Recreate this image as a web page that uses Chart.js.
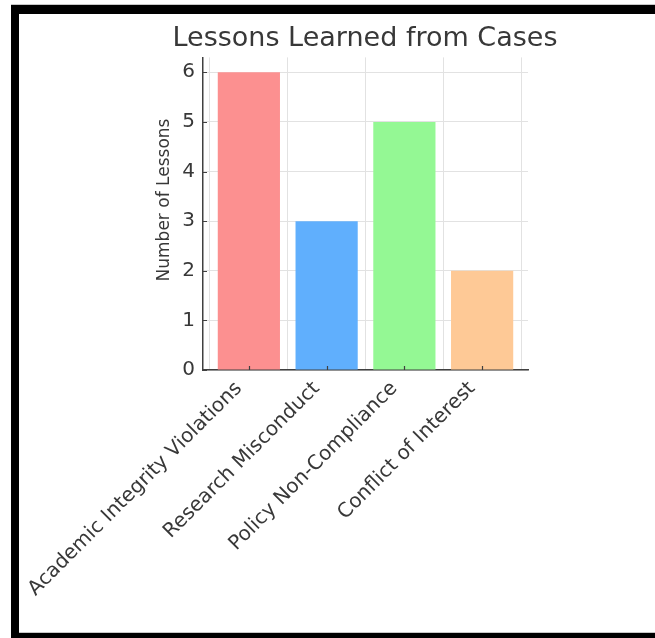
<!DOCTYPE html>
<html>
<head>
<meta charset="utf-8">
<title>Lessons Learned from Cases</title>
<script src="https://cdn.jsdelivr.net/npm/chart.js@4/dist/chart.umd.min.js"></script>
<style>
  html, body { margin: 0; padding: 0; background: #ffffff; }
  #wrap { position: relative; width: 655px; height: 638px; overflow: hidden; }
  #chart { position: absolute; left: 0; top: 0; }
  .edge { position: absolute; pointer-events: none; }
</style>
</head>
<body>
<div id="wrap">
  <canvas id="chart" width="655" height="638"></canvas>
  <div class="edge" style="left:11px;top:4px;width:644px;height:1px;background:#c8c8c8"></div>
  <div class="edge" style="left:11px;top:5px;width:644px;height:9px;background:#000"></div>
  <div class="edge" style="left:11px;top:5px;width:8px;height:633px;background:#000"></div>
  <div class="edge" style="left:19px;top:632px;width:636px;height:1px;background:#c8c8c8"></div>
  <div class="edge" style="left:11px;top:633px;width:644px;height:5px;background:#000"></div>
</div>
<script>
// Case categories and how many lessons each produced
const categories = [
  'Academic Integrity Violations',
  'Research Misconduct',
  'Policy Non-Compliance',
  'Conflict of Interest'
];
const lessonCounts = [6, 3, 5, 2];
const barColors = ['#fc9090', '#60affd', '#94f894', '#fec996'];
const yTickValues = [0, 1, 2, 3, 4, 5, 6];
const yAxisLabel = 'Number of Lessons';

const FONT = 'DejaVu Sans';
const TEXT = '#383838';
const SPINE = '#404040';
const GRID = '#e2e2e2';

// Short tick marks on the inside of the left and bottom axes, plus the y-axis label
const axisDecor = {
  id: 'axisDecor',
  afterDatasetsDraw(chart) {
    const { ctx, chartArea, scales } = chart;
    ctx.save();
    ctx.strokeStyle = SPINE;
    ctx.lineWidth = 1.2;
    ctx.beginPath();
    scales.y.ticks.forEach((t, i) => {
      const py = Math.round(scales.y.getPixelForTick(i)) + 0.5;
      ctx.moveTo(chartArea.left, py);
      ctx.lineTo(chartArea.left + 4, py);
    });
    scales.x.ticks.forEach((t, i) => {
      const px = Math.round(scales.x.getPixelForTick(i)) + 0.5;
      ctx.moveTo(px, chartArea.bottom);
      ctx.lineTo(px, chartArea.bottom - 4);
    });
    ctx.stroke();

    ctx.translate(165, 200);
    ctx.rotate(-Math.PI / 2);
    ctx.fillStyle = TEXT;
    ctx.font = '17px "' + FONT + '"';
    ctx.textAlign = 'center';
    ctx.textBaseline = 'middle';
    ctx.fillText(yAxisLabel, 0, 0);
    ctx.restore();
  }
};

new Chart(document.getElementById('chart'), {
  type: 'bar',
  data: {
    datasets: [{
      data: lessonCounts.map((v, i) => ({ x: i, y: v })),
      backgroundColor: barColors,
      borderWidth: 0,
      barPercentage: 0.8,
      categoryPercentage: 1.0
    }]
  },
  options: {
    responsive: false,
    animation: false,
    devicePixelRatio: 1,
    layout: { padding: { left: 75, right: 0, top: 0, bottom: 0 } },
    plugins: {
      legend: { display: false },
      tooltip: { enabled: false },
      title: {
        display: true,
        text: 'Lessons Learned from Cases',
        color: TEXT,
        font: { family: FONT, size: 27, weight: 'normal', lineHeight: 1.2 },
        padding: { top: 23, bottom: 2 }
      }
    },
    scales: {
      x: {
        type: 'linear',
        min: -0.59,
        max: 3.59,
        offset: false,
        afterBuildTicks: (s) => { s.ticks = categories.map((c, i) => ({ value: i })); },
        afterFit: (s) => { s.height = 268; },
        grid: { color: GRID, lineWidth: 1, drawTicks: false },
        border: { display: true, color: SPINE, width: 1.5 },
        ticks: {
          autoSkip: false,
          minRotation: 45,
          maxRotation: 45,
          padding: 7,
          labelOffset: -10,
          color: TEXT,
          font: { family: FONT, size: 20 },
          callback: (v) => categories[v] ?? ''
        }
      },
      y: {
        min: 0,
        max: 6.3,
        afterBuildTicks: (s) => { s.ticks = yTickValues.map((v) => ({ value: v })); },
        afterFit: (s) => { s.width = 128; },
        grid: { color: GRID, lineWidth: 1, drawTicks: false },
        border: { display: true, color: SPINE, width: 1.5 },
        ticks: {
          padding: 8,
          color: TEXT,
          font: { family: FONT, size: 20 }
        }
      },
      // empty strip on the right so the title centres over the plot
      side: {
        position: 'right',
        min: 0,
        max: 1,
        afterFit: (s) => { s.width = 127; },
        grid: { display: false },
        border: { display: false },
        ticks: { display: false }
      }
    }
  },
  plugins: [axisDecor]
});
</script>
</body>
</html>
